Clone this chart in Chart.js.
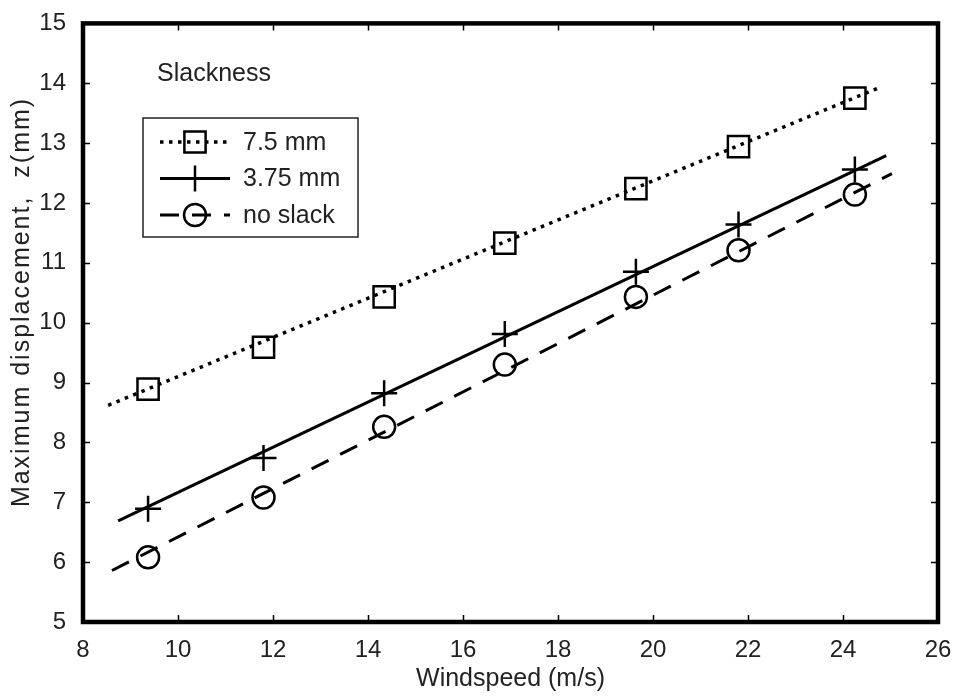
<!DOCTYPE html>
<html>
<head>
<meta charset="utf-8">
<script src="https://cdn.jsdelivr.net/npm/chart.js@4.4.0/dist/chart.umd.min.js"></script>
<style>
  body { margin: 0; background: #fff; }
  canvas { display: block; }
</style>
</head>
<body>
<canvas id="chart" width="959" height="698"></canvas>
<script>
// measured points (windspeed m/s -> displacement mm)
const windspeed = [9.37, 11.8, 14.34, 16.88, 19.64, 21.8, 24.25];
const slack75 = [8.89, 9.59, 10.43, 11.33, 12.24, 12.94, 13.75];
const slack375 = [6.89, 7.74, 8.82, 9.81, 10.85, 11.64, 12.56];
const noSlack = [6.08, 7.08, 8.26, 9.30, 10.43, 11.21, 12.14];

// fitted lines, end points
const fit75X = [8.53, 24.74];
const fit75Y = [8.62, 13.92];
const fit375X = [8.74, 24.91];
const fit375Y = [6.69, 12.79];
const fitNoX = [8.61, 25.03];
const fitNoY = [5.86, 12.49];

const seriesLabels = ['7.5 mm', '3.75 mm', 'no slack'];
const xTicks = [8, 10, 12, 14, 16, 18, 20, 22, 24, 26];
const yTicks = [5, 6, 7, 8, 9, 10, 11, 12, 13, 14, 15];

const FONT = '"Liberation Sans", Arial, sans-serif';
const INK = '#000';
const TXT = '#222';

const pts = (xs, ys) => xs.map((x, i) => ({ x: x, y: ys[i] }));

const styles = [
  { dash: [3.5, 5.5], width: 3.5, marker: 'rect', r: 15 },
  { dash: [], width: 3, marker: 'cross', r: 13 },
  { dash: [19, 13], width: 3, marker: 'circle', r: 11 }
];

function fitSet(xs, ys, st) {
  return {
    data: pts(xs, ys), showLine: true, pointRadius: 0,
    borderColor: INK, borderWidth: st.width, borderDash: st.dash
  };
}
function markSet(ys, st) {
  return {
    data: pts(windspeed, ys), showLine: false,
    pointStyle: st.marker, pointRadius: st.r, pointHoverRadius: st.r,
    pointBorderColor: INK, pointBackgroundColor: 'rgba(0,0,0,0)', pointBorderWidth: 2.5
  };
}

function drawMarker(ctx, kind, x, y, r) {
  ctx.beginPath();
  if (kind === 'rect') {
    const s = r * Math.SQRT1_2;
    ctx.rect(x - s, y - s, 2 * s, 2 * s);
  } else if (kind === 'cross') {
    ctx.moveTo(x - r, y); ctx.lineTo(x + r, y);
    ctx.moveTo(x, y - r); ctx.lineTo(x, y + r);
  } else {
    ctx.arc(x, y, r, 0, Math.PI * 2);
  }
  ctx.stroke();
}

const framePlugin = {
  id: 'frame',
  afterDatasetsDraw(chart) {
    const { ctx, chartArea: a, scales } = chart;
    ctx.save();
    // inward ticks on all four sides
    ctx.strokeStyle = INK;
    ctx.lineWidth = 1.5;
    ctx.beginPath();
    xTicks.slice(1, -1).forEach(v => {
      const px = Math.round(scales.x.getPixelForValue(v)) + 0.5;
      ctx.moveTo(px, a.bottom); ctx.lineTo(px, a.bottom - 7);
      ctx.moveTo(px, a.top); ctx.lineTo(px, a.top + 7);
    });
    yTicks.slice(1, -1).forEach(v => {
      const py = Math.round(scales.y.getPixelForValue(v)) + 0.5;
      ctx.moveTo(a.left, py); ctx.lineTo(a.left + 7, py);
      ctx.moveTo(a.right, py); ctx.lineTo(a.right - 7, py);
    });
    ctx.stroke();
    // box
    ctx.lineWidth = 4.5;
    ctx.strokeRect(a.left, a.top, a.right - a.left, a.bottom - a.top);

    // y axis title, spaced out like the original
    ctx.fillStyle = TXT;
    ctx.font = '25px ' + FONT;
    ctx.textBaseline = 'middle';
    ctx.save();
    ctx.translate(22, 302);
    ctx.rotate(-Math.PI / 2);
    ctx.textAlign = 'center';
    ctx.letterSpacing = '2px';
    ctx.fillText('Maximum displacement,  z(mm)', 0, 0);
    ctx.restore();

    // annotation + legend
    ctx.fillText('Slackness', a.left + 74, 74);

    const bx = a.left + 60, by = 118, bw = 215, bh = 119;
    ctx.fillStyle = '#fff';
    ctx.fillRect(bx, by, bw, bh);
    ctx.strokeStyle = '#222';
    ctx.lineWidth = 1.5;
    ctx.strokeRect(bx, by, bw, bh);
    seriesLabels.forEach((lab, i) => {
      const st = styles[i];
      const y = by + 24 + i * 36.5;
      ctx.strokeStyle = INK;
      ctx.lineWidth = st.width;
      ctx.setLineDash(st.dash);
      ctx.beginPath();
      ctx.moveTo(bx + 17, y); ctx.lineTo(bx + 87, y);
      ctx.stroke();
      ctx.setLineDash([]);
      ctx.lineWidth = 2.5;
      drawMarker(ctx, st.marker, bx + 52, y, st.r);
      ctx.fillStyle = TXT;
      ctx.fillText(lab, bx + 100, y + 1);
    });
    ctx.restore();
  }
};

new Chart(document.getElementById('chart'), {
  type: 'scatter',
  data: {
    datasets: [
      markSet(slack75, styles[0]),
      markSet(slack375, styles[1]),
      markSet(noSlack, styles[2]),
      fitSet(fit75X, fit75Y, styles[0]),
      fitSet(fit375X, fit375Y, styles[1]),
      fitSet(fitNoX, fitNoY, styles[2])
    ]
  },
  options: {
    responsive: false,
    animation: false,
    events: [],
    layout: { padding: { top: 20, right: 21, left: 0, bottom: 0 } },
    plugins: { legend: { display: false }, tooltip: { enabled: false } },
    scales: {
      x: {
        type: 'linear', min: 8, max: 26,
        afterBuildTicks: s => { s.ticks = xTicks.map(v => ({ value: v })); },
        afterFit: s => { s.height = 76; },
        grid: { display: false },
        border: { display: false },
        ticks: { color: TXT, padding: 6, font: { family: FONT, size: 24 } },
        title: {
          display: true, text: 'Windspeed (m/s)', color: TXT,
          font: { family: FONT, size: 25 }, padding: { top: 0 }
        }
      },
      y: {
        type: 'linear', min: 5, max: 15,
        afterBuildTicks: s => { s.ticks = yTicks.map(v => ({ value: v })); },
        afterFit: s => { s.width = 83; },
        grid: { display: false },
        border: { display: false },
        ticks: { color: TXT, padding: 9, font: { family: FONT, size: 24 } },
        title: { display: false }
      }
    }
  },
  plugins: [framePlugin]
});
</script>
</body>
</html>
